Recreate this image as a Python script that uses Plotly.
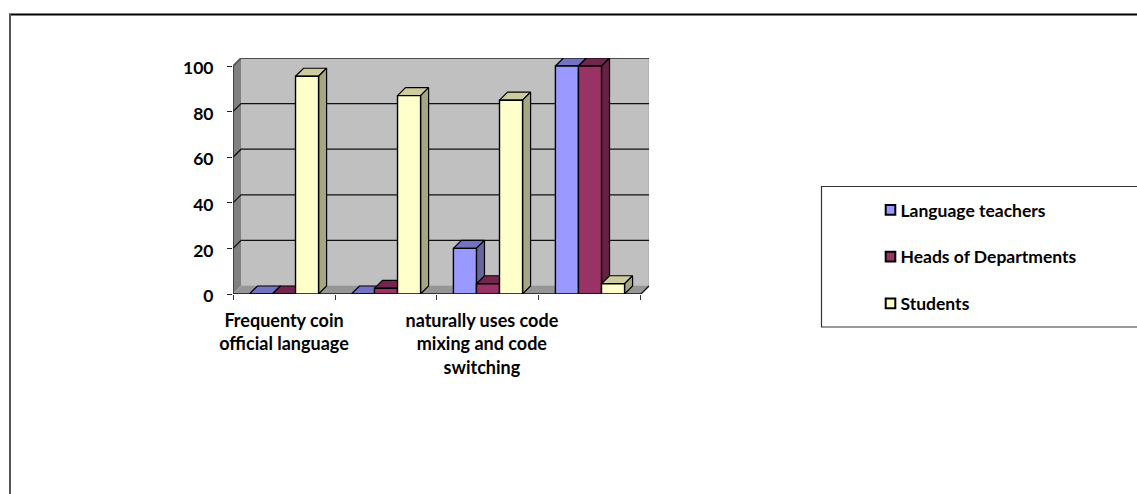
import plotly.graph_objects as go

categories = ["Frequenty coin<br>official language", "", "naturally uses code<br>mixing and code<br>switching", ""]
series_names = ["Language teachers", "Heads of Departments", "Students"]
teachers = [0, 0, 20, 100]
heads = [0, 2.5, 4.5, 100]
students = [95.5, 87, 85, 4.5]
y_ticks = [0, 20, 40, 60, 80, 100]

W, H = 1137, 494
L, R, T, B = 233, 649, 58, 294
CAT_PX = 101.75
VAL_PX = 2.28
DEPTH = 8
DX = DEPTH / CAT_PX
DY = DEPTH / VAL_PX
N = len(categories)
FONT = "Lato, Carlito, Calibri, sans-serif"
LABEL_NUDGE = [0.5, 0.5, 0.44, 0.5]

front = ["#9999FF", "#993366", "#FFFFCC"]
side = ["#66669A", "#662244", "#A6A680"]
top = ["#7373BF", "#73264D", "#CCCC9F"]


def poly(xs, ys, fill, line="rgba(0,0,0,0)", width=0):
    return go.Scatter(x=xs, y=ys, mode="lines", fill="toself", fillcolor=fill,
                      line=dict(color=line, width=width), showlegend=False, hoverinfo="skip",
                      cliponaxis=False)


def path(xs, ys, color="#000000", width=1.3):
    return go.Scatter(x=xs, y=ys, mode="lines", line=dict(color=color, width=width),
                      showlegend=False, hoverinfo="skip", cliponaxis=False)


fig = go.Figure()
# legend entries
for i, name in enumerate(series_names):
    fig.add_trace(go.Bar(x=[None], y=[None], name=name, legendgroup=name,
                         marker=dict(color=front[i], line=dict(color="#000000", width=2.5))))

# walls and floor
fig.add_trace(poly([DX, N + DX, N + DX, DX], [DY, DY, 100 + DY, 100 + DY], "#C0C0C0", "#A8A8A8", 1))
fig.add_trace(poly([0, DX, DX, 0], [0, DY, 100 + DY, 100], "#808080"))
fig.add_trace(poly([0, DX, N + DX, N], [0, DY, DY, 0], "#969696"))

# gridlines
for v in y_ticks[1:]:
    fig.add_trace(path([0, DX, N + DX], [v, v + DY, v + DY], "#111111", 1.3))
fig.add_trace(path([0, DX, N + DX], [100, 100 + DY, 100 + DY], "#606060", 1.2))
fig.add_trace(path([0, 0], [0, 100], "#222222", 1.3))
fig.add_trace(path([0, N, N + DX], [0, 0, DY], "#111111", 1.3))

values = [teachers, heads, students]
gap = 0.161
bw = (1 - 2 * gap) / 3
for c in range(N):
    for s in range(3):
        v = values[s][c]
        x0 = c + gap + s * bw
        x1 = x0 + bw
        fig.add_trace(poly([x0, x0 + DX, x1 + DX, x1, x0], [v, v + DY, v + DY, v, v], top[s], "#000000", 1.2))
        fig.add_trace(poly([x1, x1 + DX, x1 + DX, x1, x1], [0, DY, v + DY, v, 0], side[s], "#000000", 1.2))
        fig.add_trace(poly([x0, x1, x1, x0, x0], [0, 0, v, v, 0], front[s], "#000000", 1.4))


def px(x):
    return (x - L) / (R - L)


def py(y):
    return (B - y) / (B - T)


fig.update_layout(
    width=W, height=H, autosize=False,
    margin=dict(l=L, r=W - R, t=T, b=H - B, pad=0),
    paper_bgcolor="#FFFFFF", plot_bgcolor="#FFFFFF",
    font=dict(family=FONT, color="#000000"),
    xaxis=dict(range=[0, N + DX], tickmode="array",
               tickvals=[c + LABEL_NUDGE[c] for c in range(N) if categories[c]],
               ticktext=[t for t in categories if t],
               ticks="", showgrid=False, zeroline=False, showline=False, tickangle=0,
               tickfont=dict(family=FONT, size=18, color="#000000", weight=700),
               ticklabelstandoff=14,
               minor=dict(tickmode="array", tickvals=list(range(N + 1)), ticks="outside",
                          ticklen=5, tickcolor="#333333", tickwidth=1, showgrid=False)),
    yaxis=dict(range=[0, 100 + DY], tickmode="array", tickvals=y_ticks, ticks="outside",
               ticklen=5, tickcolor="#222222", tickwidth=1, showgrid=False, zeroline=False,
               showline=False, ticklabelstandoff=10, ticklabelshift=2,
               tickfont=dict(family=FONT, size=17.5, color="#000000", weight=700)),
    legend=dict(x=px(860.5), xanchor="left", y=py(192), yanchor="top",
                bgcolor="rgba(0,0,0,0)", tracegroupgap=21, itemclick=False,
                font=dict(family=FONT, size=17.5, color="#000000", weight=700)),
    shapes=[
        dict(type="line", xref="paper", yref="paper", x0=px(9), x1=px(W), y0=py(14.5), y1=py(14.5),
             line=dict(color="#000000", width=2)),
        dict(type="line", xref="paper", yref="paper", x0=px(10), x1=px(10), y0=py(14), y1=py(H),
             line=dict(color="#555555", width=2)),
        dict(type="rect", xref="paper", yref="paper", x0=px(821.5), x1=px(W + 2), y0=py(186.5), y1=py(327),
             line=dict(color="#333333", width=1.2)),
    ],
)
post = """
document.body.style.margin = '0';
document.querySelectorAll('.legendpoints').forEach(function (g) {
  g.setAttribute('transform', 'translate(14,0) scale(0.8)');
});
"""
fig.write_html("out.html", post_script=post, config=dict(displayModeBar=False))
